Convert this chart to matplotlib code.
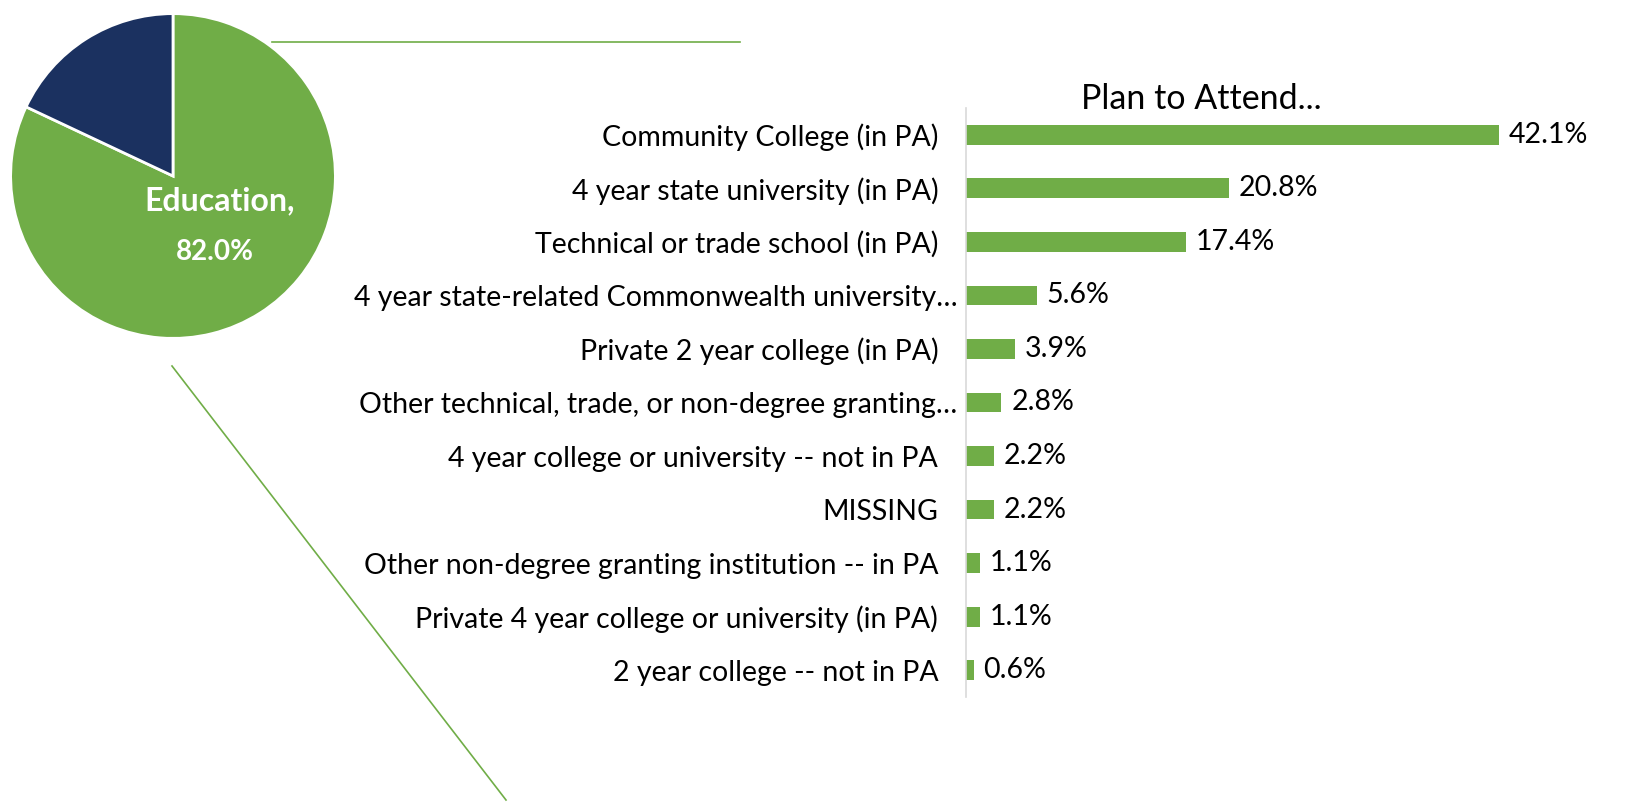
import matplotlib.pyplot as plt
from matplotlib.lines import Line2D
from matplotlib.transforms import ScaledTranslation

plt.rcParams['font.family'] = ['Lato', 'DejaVu Sans']

# pie data
pie_labels = ["Education", "Other"]
pie_values = [82.0, 18.0]
pie_colors = ["#70AD47", "#1B3160"]

# bar data
categories = [
    "Community College (in PA)",
    "4 year state university (in PA)",
    "Technical or trade school (in PA)",
    "4 year state-related Commonwealth university…",
    "Private 2 year college (in PA)",
    "Other technical, trade, or non-degree granting…",
    "4 year college or university -- not in PA",
    "MISSING",
    "Other non-degree granting institution -- in PA",
    "Private 4 year college or university (in PA)",
    "2 year college -- not in PA",
]
values = [42.1, 20.8, 17.4, 5.6, 3.9, 2.8, 2.2, 2.2, 1.1, 1.1, 0.6]

W, H = 1652, 802
fig = plt.figure(figsize=(W / 100, H / 100), dpi=100)

def px_axes(left, top, width, height):
    return fig.add_axes([left / W, 1 - (top + height) / H, width / W, height / H])

# pie
ax_pie = px_axes(9, 12, 328, 328)
ax_pie.pie(pie_values, colors=pie_colors, startangle=90, counterclock=False,
           wedgeprops=dict(edgecolor="white", linewidth=2))
ax_pie.set_xlim(-1.01, 1.01)
ax_pie.set_ylim(-1.01, 1.01)
ax_pie.text(0.29, -0.15, pie_labels[0] + ",", color="white", fontsize=23,
            fontweight="bold", ha="center", va="center")
ax_pie.text(0.26, -0.47, f"{pie_values[0]:.1f}%", color="white", fontsize=20,
            fontweight="bold", ha="center", va="center")

# connector lines
green = "#70AD47"
fig.add_artist(Line2D([272, 740], [H - 42, H - 42], transform=None,
                      color=green, linewidth=1.2))
fig.add_artist(Line2D([172, 506], [H - 366, H - 800], transform=None,
                      color=green, linewidth=1.2))

# bars
ax = px_axes(966, 108, 640, 589)
y = range(len(categories))
ax.barh(y, values, height=0.37, color=green)
ax.set_xlim(0, 640 / 12.66)
ax.set_ylim(len(categories) - 0.5, -0.5)
ax.set_yticks(list(y))
ax.set_yticklabels(categories, fontsize=20.5, color="#000000")
ax.tick_params(axis="y", length=0, pad=20)
ax.set_xticks([])
for s in ["top", "right", "bottom"]:
    ax.spines[s].set_visible(False)
ax.spines["left"].set_color("#D9D9D9")
ax.spines["left"].set_linewidth(1.2)

# truncated labels run a bit closer to the axis
for lbl in ax.get_yticklabels():
    if lbl.get_text().endswith("…"):
        lbl.set_transform(lbl.get_transform() +
                          ScaledTranslation(0.19, 0, fig.dpi_scale_trans))

for i, v in enumerate(values):
    ax.annotate(f"{v:.1f}%", (v, i), xytext=(7, 0), textcoords="offset points",
                va="center", ha="left", fontsize=20.5, color="#000000")

fig.text(1201 / W, 1 - 99 / H, "Plan to Attend...", fontsize=24.5,
         ha="center", va="center", color="#000000")

fig.savefig("out.png", dpi=100)
